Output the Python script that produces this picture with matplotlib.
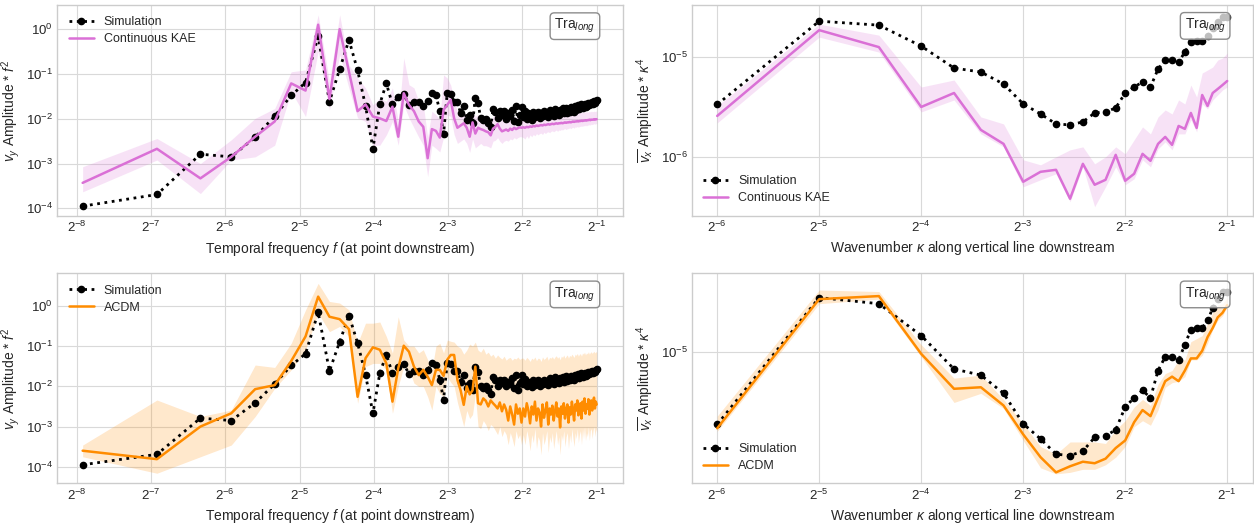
import numpy as np
import matplotlib
matplotlib.use('Agg')
import matplotlib.pyplot as plt

# frequency / wavenumber grids (index k of the spectrum)
n_t = 242
freq = np.arange(1, 122) / n_t
kappa = np.arange(1, 33) / 64

# ---- temporal spectra, values are log10 of amplitude * f^2 ----
sim_t = [-3.95, -3.69, -2.79, -2.85, -2.41, -1.94, -1.48, -1.19, -0.16, -1.62,
         -0.89, -0.24, -0.92, -1.71, -2.67, -1.67, -1.21, -1.68, -1.51, -1.45,
         -1.69, -1.63, -1.63, -1.71, -1.60, -1.42, -1.47, -1.83, -2.33, -1.42,
         -1.45, -1.62, -1.62, -1.88, -1.71, -2.03, -1.92, -2.10, -1.53, -1.65,
         -1.99, -2.03, -2.00, -2.10, -2.18, -1.78, -1.85, -1.98, -1.83, -1.92,
         -1.83, -2.00, -1.88, -1.94, -1.80, -2.04, -1.71, -2.08, -1.92, -1.73,
         -1.95, -1.82, -2.00, -1.88, -1.93, -2.02, -1.85, -1.97, -1.90, -1.84,
         -1.98, -1.88, -1.94, -1.83, -1.92, -1.86, -1.96, -1.80, -1.90, -1.87,
         -1.93, -1.78, -1.88, -1.84, -1.92, -1.80, -1.86, -1.77, -1.88, -1.82,
         -1.75, -1.86, -1.79, -1.84, -1.74, -1.81, -1.77, -1.85, -1.72, -1.80,
         -1.76, -1.70, -1.79, -1.74, -1.68, -1.77, -1.71, -1.66, -1.74, -1.69,
         -1.72, -1.65, -1.70, -1.64, -1.68, -1.62, -1.66, -1.61, -1.64, -1.60, -1.58]

kae_t = [-3.43, -2.67, -3.33, -2.85, -2.40, -2.06, -1.21, -1.37, 0.10, -1.56,
         0.00, -0.95, -1.83, -1.68, -1.95, -1.99, -2.05, -1.73, -2.40, -1.43,
         -1.69, -1.83, -2.06, -2.18, -2.88, -2.23, -2.27, -2.42, -1.80, -1.69,
         -1.58, -1.99, -2.20, -2.15, -2.10, -2.20, -2.40, -2.08, -2.33, -2.20,
         -2.23, -2.25, -2.28, -2.30, -2.37, -2.22, -2.18, -2.12, -2.22, -2.28,
         -2.26, -2.24, -2.27, -2.22, -2.25, -2.20, -2.23, -2.21, -2.19, -2.20,
         -2.19, -2.20, -2.18, -2.19, -2.17, -2.18, -2.16, -2.17, -2.15, -2.16,
         -2.15, -2.14, -2.15, -2.13, -2.14, -2.13, -2.12, -2.13, -2.12, -2.11,
         -2.12, -2.11, -2.10, -2.11, -2.10, -2.10, -2.09, -2.10, -2.09, -2.08,
         -2.09, -2.08, -2.08, -2.07, -2.08, -2.07, -2.06, -2.07, -2.06, -2.06,
         -2.05, -2.06, -2.05, -2.05, -2.04, -2.05, -2.04, -2.04, -2.03, -2.04,
         -2.03, -2.03, -2.02, -2.03, -2.02, -2.02, -2.02, -2.01, -2.02, -2.01, -2.01]
kae_t_hi = [-3.07, -2.44, -3.00, -2.47, -1.99, -1.77, -0.95, -0.91, 0.32, -1.17,
            0.32, -0.80, -1.09, -1.31, -1.69, -1.54, -1.61, -1.31, -2.06, -0.64,
            -1.24, -1.31, -1.61, -1.69, -2.41, -1.83, -1.91, -2.01, -1.02, -1.09,
            -1.25, -1.60, -1.85, -1.90, -1.85, -1.90, -2.00, -1.80, -1.95, -1.90,
            -1.92, -1.95, -1.97, -2.00, -2.05, -1.95, -1.92, -1.88, -1.95, -2.00,
            -1.98, -1.96, -2.00, -1.95, -1.98, -1.95, -1.97, -1.95, -1.94, -1.95,
            -2.00, -1.98, -2.00, -1.99, -1.97, -1.99, -1.96, -1.98, -1.95, -1.97,
            -1.95, -1.94, -1.96, -1.93, -1.95, -1.93, -1.92, -1.94, -1.92, -1.91,
            -1.93, -1.91, -1.90, -1.92, -1.90, -1.90, -1.89, -1.91, -1.89, -1.88,
            -1.90, -1.88, -1.89, -1.87, -1.88, -1.87, -1.86, -1.88, -1.86, -1.86,
            -1.85, -1.87, -1.85, -1.86, -1.84, -1.86, -1.84, -1.85, -1.84, -1.85,
            -1.84, -1.85, -1.83, -1.85, -1.83, -1.84, -1.84, -1.83, -1.84, -1.83, -1.83]
kae_t_lo = [-3.63, -2.92, -3.67, -2.92, -2.85, -2.59, -1.39, -1.95, -0.50, -1.80,
            -0.57, -1.32, -1.98, -2.06, -2.59, -2.59, -2.36, -2.06, -2.59, -1.69,
            -1.98, -2.20, -2.41, -2.59, -3.29, -2.59, -2.66, -2.74, -2.41, -1.91,
            -1.95, -2.35, -2.55, -2.50, -2.45, -2.55, -2.75, -2.45, -2.65, -2.60,
            -2.55, -2.60, -2.60, -2.62, -2.65, -2.50, -2.48, -2.42, -2.50, -2.55,
            -2.50, -2.48, -2.50, -2.45, -2.47, -2.42, -2.45, -2.42, -2.40, -2.40,
            -2.42, -2.45, -2.38, -2.44, -2.36, -2.40, -2.35, -2.38, -2.33, -2.36,
            -2.33, -2.32, -2.35, -2.30, -2.33, -2.30, -2.29, -2.31, -2.28, -2.27,
            -2.29, -2.27, -2.25, -2.28, -2.25, -2.26, -2.24, -2.25, -2.23, -2.22,
            -2.24, -2.22, -2.22, -2.20, -2.22, -2.20, -2.19, -2.21, -2.18, -2.19,
            -2.17, -2.19, -2.17, -2.17, -2.16, -2.17, -2.15, -2.16, -2.14, -2.16,
            -2.14, -2.14, -2.13, -2.14, -2.12, -2.13, -2.12, -2.11, -2.12, -2.11, -2.11]

acdm_t = [-3.60, -3.81, -3.00, -2.67, -2.07, -1.97, -1.37, -0.76, 0.23, -0.27,
          -0.33, -0.58, -2.26, -1.30, -1.03, -1.09, -1.43, -2.38, -1.55, -0.99,
          -1.14, -1.51, -1.72, -1.59, -1.76, -1.97, -1.59, -1.59, -1.74, -1.34,
          -1.22, -1.22, -1.84, -2.10, -2.46, -2.00, -2.20, -2.10, -1.51, -2.42,
          -2.45, -2.30, -2.36, -2.50, -2.35, -2.42, -2.48, -2.55, -2.40, -2.62,
          -2.45, -2.58, -2.85, -2.50, -2.70, -2.95, -2.45, -2.68, -2.55, -2.90,
          -2.55, -2.75, -2.42, -2.60, -2.92, -2.50, -2.70, -2.38, -2.85, -2.55,
          -2.65, -3.00, -2.45, -2.78, -2.60, -2.40, -2.95, -2.55, -2.70, -2.48,
          -2.85, -2.62, -2.40, -2.75, -2.55, -3.02, -2.50, -2.68, -2.42, -2.80,
          -2.58, -2.45, -2.90, -2.52, -2.70, -2.38, -2.62, -2.85, -2.45, -2.60,
          -2.35, -2.72, -2.50, -2.42, -2.80, -2.38, -2.60, -2.30, -2.68, -2.45,
          -2.55, -2.32, -2.70, -2.42, -2.35, -2.60, -2.40, -2.28, -2.55, -2.38, -2.45]
acdm_t_hi = [-3.46, -2.34, -2.75, -2.59, -1.47, -1.53, -0.93, -0.10, 0.56, 0.11,
             0.07, -0.10, -0.93, -0.43, -0.43, -0.40, -0.76, -1.17, -0.27, -0.85,
             -1.00, -1.00, -1.17, -1.09, -1.34, -1.59, -1.00, -0.93, -1.17, -0.85,
             -0.88, -0.90, -1.00, -1.05, -1.20, -1.10, -0.95, -1.00, -0.90, -1.10,
             -1.15, -1.05, -1.20, -1.15, -1.25, -1.20, -1.30, -1.22, -1.28, -1.32,
             -1.25, -1.35, -1.30, -1.28, -1.35, -1.30, -1.32, -1.27, -1.33, -1.30,
             -1.30, -1.35, -1.28, -1.32, -1.38, -1.30, -1.33, -1.27, -1.36, -1.30,
             -1.31, -1.38, -1.27, -1.33, -1.30, -1.25, -1.35, -1.28, -1.30, -1.26,
             -1.32, -1.27, -1.24, -1.30, -1.26, -1.34, -1.25, -1.28, -1.22, -1.30,
             -1.25, -1.22, -1.30, -1.23, -1.26, -1.20, -1.24, -1.28, -1.20, -1.23,
             -1.18, -1.25, -1.20, -1.19, -1.25, -1.17, -1.20, -1.15, -1.22, -1.17,
             -1.19, -1.14, -1.20, -1.16, -1.14, -1.18, -1.15, -1.13, -1.17, -1.14, -1.15]
acdm_t_lo = [-3.75, -4.16, -3.75, -3.46, -2.75, -2.05, -1.59, -1.09, -0.18, -0.64,
             -0.51, -0.76, -2.42, -1.51, -1.43, -1.43, -1.59, -2.67, -2.00, -1.51,
             -1.59, -1.92, -2.00, -2.00, -2.26, -2.59, -2.00, -2.18, -2.26, -1.76,
             -1.90, -2.00, -2.40, -2.70, -3.00, -2.60, -2.80, -2.70, -2.20, -3.00,
             -3.05, -2.85, -2.95, -3.10, -2.95, -3.00, -3.10, -3.20, -3.00, -3.25,
             -3.10, -3.20, -3.45, -3.15, -3.30, -3.50, -3.10, -3.30, -3.20, -3.45,
             -3.20, -3.45, -3.10, -3.30, -3.60, -3.20, -3.40, -3.05, -3.55, -3.25,
             -3.35, -3.70, -3.15, -3.45, -3.30, -3.10, -3.65, -3.25, -3.40, -3.15,
             -3.55, -3.30, -3.10, -3.45, -3.25, -3.70, -3.20, -3.35, -3.10, -3.50,
             -3.25, -3.15, -3.55, -3.20, -3.40, -3.05, -3.30, -3.50, -3.15, -3.30,
             -3.05, -3.40, -3.20, -3.10, -3.45, -3.05, -3.30, -3.00, -3.35, -3.15,
             -3.25, -3.00, -3.35, -3.10, -3.05, -3.30, -3.10, -3.00, -3.25, -3.05, -3.15]

# ---- spatial spectra, log10 of amplitude * kappa^4 ----
sim_k = [-5.475, -4.64, -4.68, -4.89, -5.11, -5.15, -5.27, -5.47, -5.57, -5.67,
         -5.68, -5.65, -5.56, -5.55, -5.51, -5.36, -5.30, -5.25, -5.30, -5.12,
         -5.03, -5.03, -5.05, -4.95, -4.85, -4.84, -4.84, -4.79, -4.71, -4.65, -4.60, -4.60]
kae_k = [-5.59, -4.73, -4.90, -5.50, -5.36, -5.73, -5.87, -6.25, -6.15, -6.13,
         -6.42, -6.07, -6.28, -6.23, -5.98, -6.24, -6.17, -5.97, -6.04, -5.87,
         -5.80, -5.88, -5.69, -5.72, -5.56, -5.71, -5.38, -5.49, -5.36, -5.32, -5.28, -5.24]
kae_k_hi = [-5.49, -4.67, -4.78, -5.30, -5.23, -5.60, -5.67, -6.03, -6.08, -6.00,
            -5.93, -5.90, -6.07, -6.00, -5.90, -5.97, -5.83, -5.70, -5.77, -5.60,
            -5.53, -5.57, -5.43, -5.47, -5.28, -5.40, -5.16, -5.13, -5.10, -5.03, -5.01, -4.96]
kae_k_lo = [-5.66, -4.80, -4.95, -5.55, -5.43, -5.77, -5.90, -6.30, -6.23, -6.17,
            -6.45, -6.10, -6.50, -6.30, -6.10, -6.28, -6.22, -6.03, -6.10, -5.92,
            -5.85, -5.93, -5.77, -5.77, -5.63, -5.75, -5.47, -5.52, -5.43, -5.38, -5.33, -5.30]
acdm_k = [-5.50, -4.65, -4.63, -5.01, -5.24, -5.23, -5.35, -5.54, -5.69, -5.79,
          -5.75, -5.72, -5.73, -5.70, -5.63, -5.58, -5.46, -5.38, -5.42, -5.30,
          -5.19, -5.16, -5.19, -5.12, -5.04, -5.04, -4.99, -4.90, -4.84, -4.77, -4.74, -4.69]
acdm_k_hi = [-5.42, -4.59, -4.60, -4.95, -5.17, -5.15, -5.31, -5.47, -5.62, -5.67,
             -5.59, -5.59, -5.59, -5.60, -5.51, -5.45, -5.36, -5.31, -5.35, -5.21,
             -5.14, -5.12, -5.05, -5.05, -4.93, -4.91, -4.89, -4.81, -4.74, -4.69, -4.68, -4.64]
acdm_k_lo = [-5.52, -4.68, -4.65, -5.03, -5.33, -5.27, -5.37, -5.58, -5.76, -5.80,
             -5.79, -5.77, -5.77, -5.74, -5.69, -5.62, -5.49, -5.45, -5.48, -5.38,
             -5.23, -5.20, -5.19, -5.16, -5.05, -5.05, -5.02, -4.94, -4.85, -4.79, -4.76, -4.70]

plt.style.use('seaborn-v0_8-whitegrid')
plt.rcParams['font.family'] = ['Liberation Sans', 'DejaVu Sans']
plt.rcParams['mathtext.fontset'] = 'custom'
plt.rcParams['mathtext.rm'] = 'Liberation Sans'
plt.rcParams['mathtext.it'] = 'Liberation Sans:italic'
plt.rcParams['mathtext.bf'] = 'Liberation Sans:bold'
plt.rcParams['axes.edgecolor'] = '0.8'
plt.rcParams['grid.color'] = '0.85'
plt.rcParams['text.color'] = '0.15'
plt.rcParams['axes.labelcolor'] = '0.15'
plt.rcParams['xtick.color'] = '0.15'
plt.rcParams['ytick.color'] = '0.15'
plt.rcParams['xtick.major.pad'] = 3
plt.rcParams['ytick.major.pad'] = 3
plt.rcParams['axes.labelpad'] = 3

fig = plt.figure(figsize=(12.54, 5.23), dpi=100)
W, H = 1254, 523
def rect(x0, x1, y0, y1):
    return [x0 / W, 1 - y1 / H, (x1 - x0) / W, (y1 - y0) / H]

ax_tl = fig.add_axes(rect(57.3, 622.7, 5, 216))
ax_tr = fig.add_axes(rect(691.7, 1252.7, 4.7, 215.7))
ax_bl = fig.add_axes(rect(57.3, 622.7, 273.3, 483.3))
ax_br = fig.add_axes(rect(691.7, 1252.7, 273.3, 483.3))

def pw(a):
    return 10.0 ** np.asarray(a)

def panel(ax, x, sim, mean, lo, hi, color, label, legloc):
    ax.plot(x, pw(sim), 'k:', marker='o', ms=4.5, lw=2, label='Simulation')
    ax.plot(x, pw(mean), color=color, lw=1.8, label=label)
    ax.fill_between(x, pw(lo), pw(hi), color=color, alpha=0.2, lw=0)
    ax.set_xscale('log', base=2)
    ax.set_yscale('log')
    ax.tick_params(labelsize=9.5)
    ax.legend(loc=legloc, fontsize=9, frameon=False, labelspacing=0.4)
    ax.text(0.952, 0.943, r'Tra$_{long}$', transform=ax.transAxes, ha='right', va='top',
            fontsize=10, zorder=10,
            bbox=dict(boxstyle='round,pad=0.3', fc=(1, 1, 1, 0.75), ec='0.55', lw=1))

panel(ax_tl, freq, sim_t, kae_t, kae_t_lo, kae_t_hi, 'orchid', 'Continuous KAE', 'upper left')
panel(ax_bl, freq, sim_t, acdm_t, acdm_t_lo, acdm_t_hi, 'darkorange', 'ACDM', 'upper left')
panel(ax_tr, kappa, sim_k, kae_k, kae_k_lo, kae_k_hi, 'orchid', 'Continuous KAE', 'lower left')
panel(ax_br, kappa, sim_k, acdm_k, acdm_k_lo, acdm_k_hi, 'darkorange', 'ACDM', 'lower left')

ax_tl.set_ylim(10 ** -4.17, 10 ** 0.54)
ax_bl.set_ylim(10 ** -4.41, 10 ** 0.81)
ax_tr.set_ylim(10 ** -6.59, 10 ** -4.475)
ax_br.set_ylim(10 ** -5.862, 10 ** -4.48)
for ax in (ax_tl, ax_bl):
    ax.set_xlim(2 ** -8.26, 2 ** -0.65)
    ax.set_xlabel(r'Temporal frequency $f$ (at point downstream)', fontsize=10)
    ax.set_ylabel(r'$v_y$ Amplitude * $f^2$', fontsize=10)
for ax in (ax_tr, ax_br):
    ax.set_xlim(2 ** -6.25, 2 ** -0.75)
    ax.set_xlabel(r'Wavenumber $\kappa$ along vertical line downstream', fontsize=10)
    ax.set_ylabel(r'$\overline{v_x}$ Amplitude * $\kappa^4$', fontsize=10)

fig.savefig('out.png', dpi=100)
